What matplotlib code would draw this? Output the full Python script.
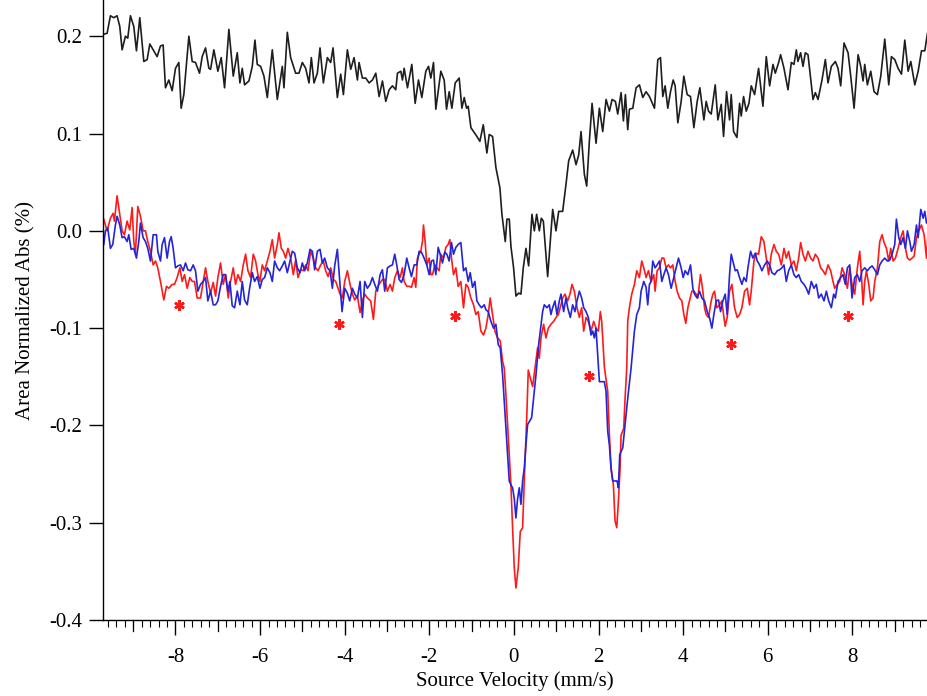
import numpy as np
import matplotlib.pyplot as plt
from matplotlib.ticker import MultipleLocator, FormatStrFormatter

plt.rcParams['font.family'] = ['Liberation Serif', 'DejaVu Serif']
plt.rcParams['axes.unicode_minus'] = False

# upper trace (black), velocity in mm/s and absorption in %
black_v = [-9.696, -9.617, -9.538, -9.459, -9.381, -9.317, -9.262, -9.183, -9.128, -9.065,
           -8.986, -8.923, -8.844, -8.749, -8.670, -8.607, -8.513, -8.434, -8.355, -8.292,
           -8.237, -8.158, -8.079, -8.000, -7.921, -7.866, -7.803, -7.684, -7.605, -7.527,
           -7.432, -7.369, -7.290, -7.211, -7.171, -7.093, -6.998, -6.919, -6.840, -6.738,
           -6.635, -6.540, -6.477, -6.422, -6.367, -6.264, -6.185, -6.122, -6.067, -5.988,
           -5.909, -5.830, -5.712, -5.593, -5.475, -5.436, -5.357, -5.278, -5.160, -5.081,
           -5.002, -4.923, -4.844, -4.789, -4.726, -4.647, -4.584, -4.505, -4.410, -4.331,
           -4.276, -4.174, -4.095, -4.031, -3.937, -3.858, -3.779, -3.700, -3.661, -3.582,
           -3.503, -3.424, -3.345, -3.266,
           -3.187, -3.108, -3.029, -2.950, -2.872, -2.793, -2.753, -2.674, -2.635, -2.595,
           -2.516, -2.414, -2.335, -2.256, -2.177, -2.083, -2.019, -1.964, -1.901, -1.846,
           -1.728, -1.649, -1.593, -1.530, -1.467, -1.388, -1.294, -1.230, -1.175, -1.120,
           -1.081, -1.017, -0.939, -0.875, -0.805, -0.725, -0.639, -0.584, -0.505, -0.426,
           -0.331, -0.284, -0.205, -0.165, -0.110, -0.071, -0.008, 0.048, 0.111, 0.166,
           0.221, 0.284, 0.348, 0.426, 0.482, 0.537, 0.600, 0.647, 0.695, 0.797,
           0.837, 0.916, 0.994, 1.058, 1.152, 1.231, 1.294, 1.389, 1.468, 1.531,
           1.586, 1.665, 1.720, 1.783, 1.847, 1.941, 2.020, 2.099, 2.178, 2.257,
           2.320, 2.399, 2.454, 2.533, 2.588, 2.635, 2.690, 2.730, 2.809, 2.888,
           2.967, 3.046, 3.124, 3.203, 3.282,
           3.322, 3.401, 3.464, 3.519, 3.574, 3.637, 3.701, 3.764, 3.811, 3.874,
           3.953, 4.016, 4.095, 4.174, 4.253, 4.332, 4.395, 4.490, 4.545, 4.600,
           4.663, 4.758, 4.821, 4.900, 4.955, 5.026, 5.097, 5.136, 5.192, 5.271,
           5.334, 5.373, 5.428, 5.491, 5.555, 5.610, 5.689, 5.783, 5.886, 5.965,
           6.044, 6.123, 6.178, 6.257, 6.304, 6.383, 6.478, 6.557, 6.620, 6.675,
           6.714, 6.777, 6.833, 6.888, 6.951, 7.069, 7.125, 7.188, 7.282, 7.361,
           7.424, 7.503, 7.598, 7.661, 7.724, 7.803, 7.898, 7.961, 8.040, 8.135,
           8.198, 8.253, 8.292, 8.355, 8.434, 8.513, 8.592, 8.671, 8.766, 8.860,
           8.923, 9.002, 9.081, 9.160, 9.239, 9.318, 9.381, 9.476, 9.555, 9.634,
           9.712, 9.775]
black_abs = [0.202, 0.203, 0.221, 0.219, 0.221, 0.210, 0.186, 0.200, 0.198, 0.221,
             0.210, 0.185, 0.219, 0.174, 0.176, 0.192, 0.185, 0.179, 0.190, 0.191,
             0.147, 0.155, 0.144, 0.167, 0.173, 0.126, 0.140, 0.200, 0.174, 0.173,
             0.162, 0.179, 0.188, 0.167, 0.166, 0.186, 0.164, 0.178, 0.147, 0.207,
             0.159, 0.183, 0.152, 0.167, 0.150, 0.154, 0.169, 0.196, 0.171, 0.169,
             0.159, 0.137, 0.186, 0.135, 0.169, 0.147, 0.204, 0.178, 0.162, 0.162,
             0.173, 0.167, 0.152, 0.178, 0.152, 0.162, 0.188, 0.152, 0.178, 0.173,
             0.188, 0.137, 0.161, 0.140, 0.186, 0.166, 0.178, 0.155, 0.173, 0.157,
             0.157, 0.152, 0.155, 0.162,
             0.138, 0.154, 0.133, 0.145, 0.149, 0.145, 0.162, 0.164, 0.155, 0.167,
             0.147, 0.171, 0.131, 0.155, 0.137, 0.164, 0.169, 0.157, 0.173, 0.125,
             0.164, 0.155, 0.125, 0.143, 0.126, 0.152, 0.157, 0.126, 0.137, 0.126,
             0.128, 0.106, 0.101, 0.097, 0.092, 0.109, 0.080, 0.099, 0.097, 0.065,
             0.044, 0.017, -0.011, 0.012, 0.012, -0.016, -0.038, -0.067, -0.064, -0.065,
             -0.038, -0.018, -0.036, 0.017, 0.000, 0.017, 0.000, 0.013, 0.010, -0.047,
             -0.024, 0.022, 0.000, 0.020, 0.020, 0.048, 0.072, 0.083, 0.068, 0.078,
             0.102, 0.058, 0.046, 0.092, 0.131, 0.090, 0.126, 0.102, 0.135, 0.123,
             0.135, 0.133, 0.120, 0.142, 0.113, 0.140, 0.104, 0.125, 0.126, 0.147,
             0.150, 0.137, 0.143, 0.138, 0.130,
             0.126, 0.176, 0.178, 0.138, 0.149, 0.126, 0.143, 0.155, 0.149, 0.111,
             0.133, 0.159, 0.140, 0.138, 0.106, 0.133, 0.147, 0.114, 0.133, 0.123,
             0.120, 0.150, 0.114, 0.130, 0.097, 0.143, 0.114, 0.140, 0.102, 0.096,
             0.131, 0.118, 0.138, 0.123, 0.131, 0.149, 0.140, 0.167, 0.128, 0.179,
             0.149, 0.171, 0.162, 0.173, 0.181, 0.167, 0.145, 0.173, 0.171, 0.186,
             0.174, 0.183, 0.169, 0.183, 0.181, 0.135, 0.142, 0.135, 0.155, 0.176,
             0.152, 0.169, 0.174, 0.167, 0.149, 0.193, 0.183, 0.159, 0.126, 0.181,
             0.169, 0.154, 0.171, 0.150, 0.164, 0.143, 0.140, 0.159, 0.197, 0.150,
             0.179, 0.176, 0.167, 0.161, 0.196, 0.164, 0.174, 0.150, 0.164, 0.185,
             0.185, 0.203]

# red trace
red_v = [-9.696, -9.617, -9.538, -9.475, -9.444, -9.381, -9.317, -9.262, -9.207, -9.144,
         -9.081, -9.025, -8.986, -8.947, -8.891, -8.828, -8.765, -8.710, -8.655, -8.592,
         -8.528, -8.473, -8.418, -8.355, -8.276, -8.213, -8.158, -8.079, -8.024, -7.961,
         -7.897, -7.842, -7.787, -7.724, -7.661, -7.605, -7.550, -7.487, -7.408, -7.345,
         -7.290, -7.235, -7.171, -7.108, -7.053, -6.998, -6.935, -6.872, -6.817, -6.753,
         -6.698, -6.635, -6.580, -6.525, -6.461, -6.398, -6.343, -6.288, -6.225, -6.162,
         -6.106, -6.051, -6.004, -5.949, -5.893, -5.830, -5.767, -5.712, -5.657, -5.593,
         -5.554, -5.499, -5.451, -5.396, -5.341, -5.278, -5.215, -5.160, -5.104, -5.041,
         -4.978, -4.923, -4.868, -4.805, -4.742, -4.686, -4.631, -4.568, -4.505, -4.450,
         -4.394, -4.331, -4.268, -4.213, -4.158, -4.110, -4.055, -4.000, -3.937, -3.874,
         -3.819, -3.763, -3.700, -3.637, -3.582, -3.527, -3.464, -3.385, -3.322, -3.266,
         -3.187,
         -3.109, -3.054, -2.991, -2.927, -2.872, -2.817, -2.754, -2.691, -2.636, -2.596,
         -2.533, -2.478, -2.422, -2.359, -2.320, -2.280, -2.241, -2.202, -2.162, -2.138,
         -2.099, -2.060, -2.004, -1.965, -1.925, -1.870, -1.823, -1.768, -1.728, -1.665,
         -1.610, -1.555, -1.515, -1.476, -1.428, -1.373, -1.318, -1.255, -1.192, -1.136,
         -1.081, -1.018, -0.955, -0.900, -0.845, -0.781, -0.718, -0.663, -0.608, -0.561,
         -0.505, -0.450, -0.387, -0.324, -0.269,
         -0.229, -0.190, -0.150, -0.111, -0.071, -0.032, 0.008, 0.047, 0.102, 0.150,
         0.205, 0.244, 0.308, 0.339, 0.386, 0.442, 0.497,
         0.560, 0.599, 0.639, 0.702, 0.757, 0.812, 0.875, 0.938, 0.994, 1.049,
         1.112, 1.152, 1.207, 1.270, 1.325, 1.372, 1.428, 1.491, 1.546, 1.601,
         1.649, 1.704, 1.759, 1.822, 1.885, 1.940, 1.996, 2.043, 2.075, 2.138,
         2.217, 2.256, 2.296, 2.351, 2.390, 2.430, 2.469, 2.509, 2.532, 2.595,
         2.627, 2.667,
         2.690, 2.729, 2.785, 2.848, 2.903, 2.966, 3.021, 3.069, 3.124, 3.179,
         3.242,
         3.306, 3.337, 3.385, 3.440, 3.495, 3.543, 3.598, 3.653, 3.700, 3.756,
         3.811, 3.858, 3.913, 3.969, 4.016, 4.063, 4.111, 4.166, 4.205, 4.253,
         4.308, 4.347, 4.410, 4.466, 4.505, 4.544, 4.600, 4.663, 4.702, 4.742,
         4.797, 4.860, 4.915, 4.963, 4.994, 5.041, 5.097, 5.152, 5.215, 5.278,
         5.333, 5.389, 5.452, 5.515, 5.570, 5.609, 5.673, 5.728, 5.783, 5.846,
         5.909, 5.965, 6.020, 6.083, 6.146, 6.201, 6.257, 6.320, 6.383, 6.438,
         6.493, 6.556, 6.619, 6.675, 6.730, 6.777, 6.833, 6.888, 6.951, 7.014,
         7.069, 7.124, 7.187, 7.250, 7.306, 7.361, 7.424, 7.487, 7.542, 7.582,
         7.645, 7.700, 7.756, 7.819, 7.882, 7.937, 7.992, 8.055, 8.118, 8.174,
         8.213, 8.253, 8.292, 8.332, 8.387, 8.434, 8.489, 8.529, 8.592, 8.647,
         8.702, 8.750, 8.805, 8.860, 8.907, 8.963, 9.018, 9.081, 9.144, 9.199,
         9.255, 9.302, 9.357, 9.412, 9.460, 9.515, 9.570, 9.633, 9.696, 9.752,
         9.791]
red_abs = [0.012, -0.000, 0.013, 0.018, 0.010, 0.036, 0.017, -0.000, -0.004, 0.010,
           0.001, 0.024, -0.011, -0.023, 0.025, 0.015, -0.000, -0.000, -0.011, -0.021,
           -0.035, -0.031, -0.038, -0.052, -0.071, -0.057, -0.059, -0.055, -0.055, -0.048,
           -0.038, -0.052, -0.045, -0.059, -0.048, -0.052, -0.052, -0.069, -0.069, -0.052,
           -0.038, -0.052, -0.064, -0.053, -0.067, -0.048, -0.033, -0.055, -0.045, -0.069,
           -0.052, -0.038, -0.055, -0.045, -0.052, -0.035, -0.024, -0.041, -0.048, -0.024,
           -0.031, -0.045, -0.052, -0.035, -0.041, -0.031, -0.021, -0.009, -0.028, -0.014,
           -0.002, -0.018, -0.021, -0.028, -0.018, -0.028, -0.045, -0.030, -0.048, -0.040,
           -0.041, -0.035, -0.041, -0.021, -0.028, -0.038, -0.041, -0.035, -0.031, -0.041,
           -0.047, -0.038, -0.050, -0.052, -0.059, -0.065, -0.069, -0.052, -0.041, -0.055,
           -0.065, -0.071, -0.067, -0.084, -0.072, -0.065, -0.069, -0.072, -0.091, -0.062,
           -0.055,
           -0.050, -0.050, -0.062, -0.055, -0.062, -0.048, -0.041, -0.048, -0.038, -0.052,
           -0.057, -0.057, -0.058, -0.048, -0.058, -0.028, -0.024, -0.021, -0.011, 0.006,
           -0.011, -0.035, -0.028, -0.045, -0.045, -0.035, -0.038, -0.041, -0.024, -0.028,
           -0.017, -0.014, -0.009, -0.028, -0.045, -0.038, -0.057, -0.052, -0.079, -0.055,
           -0.058, -0.069, -0.076, -0.086, -0.083, -0.103, -0.107, -0.100, -0.086, -0.069,
           -0.086, -0.103, -0.110, -0.113, -0.134,
           -0.141, -0.168, -0.199, -0.230, -0.261, -0.305, -0.346, -0.367, -0.346, -0.309,
           -0.305, -0.257, -0.185, -0.143, -0.151, -0.160, -0.141,
           -0.120, -0.131, -0.110, -0.096, -0.110, -0.100, -0.096, -0.093, -0.089, -0.086,
           -0.076, -0.069, -0.065, -0.072, -0.065, -0.055, -0.062, -0.079, -0.089, -0.079,
           -0.103, -0.089, -0.093, -0.103, -0.093, -0.100, -0.103, -0.083, -0.093, -0.140,
           -0.165, -0.209, -0.244, -0.261, -0.298, -0.305, -0.278, -0.244, -0.210, -0.203,
           -0.172, -0.141,
           -0.093, -0.079, -0.065, -0.055, -0.041, -0.048, -0.031, -0.038, -0.048, -0.041,
           -0.052,
           -0.045, -0.062, -0.041, -0.038, -0.028, -0.028, -0.038, -0.035, -0.038, -0.035,
           -0.052, -0.062, -0.069, -0.072, -0.086, -0.095, -0.079, -0.069, -0.062, -0.062,
           -0.065, -0.069, -0.045, -0.062, -0.079, -0.086, -0.089, -0.072, -0.065, -0.062,
           -0.079, -0.076, -0.072, -0.089, -0.098, -0.089, -0.062, -0.055, -0.079, -0.089,
           -0.086, -0.079, -0.062, -0.059, -0.076, -0.062, -0.031, -0.023, -0.024, -0.006,
           -0.011, -0.028, -0.045, -0.024, -0.014, -0.021, -0.024, -0.035, -0.018, -0.028,
           -0.021, -0.035, -0.031, -0.041, -0.028, -0.012, -0.024, -0.031, -0.021, -0.028,
           -0.031, -0.024, -0.028, -0.038, -0.041, -0.045, -0.035, -0.041, -0.052, -0.059,
           -0.055, -0.052, -0.038, -0.045, -0.059, -0.038, -0.055, -0.065, -0.038, -0.021,
           -0.045, -0.076, -0.052, -0.041, -0.055, -0.072, -0.069, -0.052, -0.038, -0.011,
           -0.004, -0.012, -0.018, -0.031, -0.018, -0.031, -0.028, -0.018, -0.007, -0.000,
           -0.018, -0.028, -0.030, -0.028, -0.026, -0.007, -0.000, 0.006, -0.004, -0.028,
           -0.000]

# blue trace
blue_v = [-9.696, -9.657, -9.601, -9.538, -9.483, -9.420, -9.381, -9.317, -9.262, -9.207,
          -9.144, -9.104, -9.049, -8.986, -8.923, -8.868, -8.828, -8.765, -8.710, -8.655,
          -8.592, -8.528, -8.450, -8.418, -8.355, -8.315, -8.260, -8.197, -8.142, -8.102,
          -8.055, -8.000, -7.945, -7.882, -7.819, -7.763, -7.708, -7.645, -7.582, -7.527,
          -7.471, -7.408, -7.345, -7.290, -7.235, -7.171, -7.108, -7.053, -6.998, -6.935,
          -6.872, -6.817, -6.761, -6.714, -6.659, -6.603, -6.540, -6.477, -6.422, -6.367,
          -6.304, -6.248, -6.185, -6.130, -6.067, -6.004, -5.949, -5.893, -5.830, -5.767,
          -5.712, -5.657, -5.593, -5.538, -5.475, -5.420, -5.357, -5.294, -5.239, -5.183,
          -5.120, -5.057, -5.002, -4.947, -4.884, -4.820, -4.765, -4.710, -4.647, -4.584,
          -4.529, -4.473, -4.410, -4.347, -4.292, -4.237, -4.174, -4.118, -4.063, -4.000,
          -3.937, -3.882, -3.819, -3.763, -3.700, -3.637, -3.582, -3.527, -3.464, -3.401,
          -3.345, -3.290, -3.227, -3.163,
          -3.109, -3.054, -2.991, -2.927, -2.872, -2.817, -2.770, -2.714, -2.659, -2.596,
          -2.533, -2.478, -2.422, -2.359, -2.296, -2.241, -2.186, -2.123, -2.060, -2.004,
          -1.949, -1.902, -1.846, -1.791, -1.744, -1.689, -1.634, -1.586, -1.531, -1.476,
          -1.428, -1.373, -1.318, -1.255, -1.192, -1.136, -1.081, -1.034, -0.979, -0.923,
          -0.876, -0.821, -0.766, -0.702, -0.663, -0.608, -0.545, -0.482, -0.426, -0.371,
          -0.324,
          -0.268, -0.229, -0.190, -0.150, -0.111, -0.071, -0.032, 0.008, 0.047, 0.087,
          0.126, 0.166, 0.205, 0.244, 0.284, 0.323, 0.363, 0.418, 0.465, 0.521,
          0.576, 0.623, 0.678, 0.718, 0.781, 0.836, 0.875, 0.915, 0.970, 1.017,
          1.073, 1.112, 1.175, 1.230, 1.270, 1.333, 1.388, 1.443, 1.491, 1.546,
          1.601, 1.649, 1.704, 1.759, 1.822, 1.862, 1.901, 1.940,
          2.020, 2.138, 2.177, 2.217, 2.256, 2.296, 2.335, 2.390, 2.438, 2.469,
          2.501, 2.532, 2.572, 2.627, 2.690, 2.769,
          2.848, 2.903, 2.966, 3.006, 3.069, 3.124, 3.163, 3.203, 3.242,
          3.282, 3.337, 3.385, 3.440, 3.495, 3.543, 3.598, 3.653, 3.716, 3.779,
          3.834, 3.890, 3.953, 4.000, 4.047, 4.111, 4.174, 4.229, 4.268, 4.331,
          4.387, 4.442, 4.505, 4.568, 4.623, 4.679, 4.726, 4.781, 4.836, 4.884,
          4.939, 4.994, 5.041, 5.097, 5.136, 5.176, 5.231, 5.278, 5.333, 5.389,
          5.436, 5.491, 5.531, 5.594, 5.649, 5.704, 5.752, 5.807, 5.862, 5.925,
          5.988, 6.043, 6.099, 6.162, 6.225, 6.280, 6.335, 6.383, 6.438, 6.493,
          6.556, 6.619, 6.675, 6.730, 6.793, 6.856, 6.911, 6.967, 7.030, 7.093,
          7.148, 7.203, 7.266, 7.329, 7.385, 7.440, 7.503, 7.558, 7.598, 7.661,
          7.724, 7.779, 7.834, 7.882, 7.937, 7.992, 8.055, 8.118, 8.174, 8.229,
          8.292, 8.355, 8.410, 8.466, 8.529, 8.592, 8.647, 8.702, 8.765, 8.828,
          8.884, 8.939, 9.002, 9.041, 9.097, 9.144, 9.199, 9.255, 9.302, 9.357,
          9.397, 9.460, 9.515, 9.554, 9.617, 9.673, 9.712, 9.752, 9.791]
blue_abs = [-0.014, -0.000, 0.003, -0.018, -0.014, 0.006, 0.015, 0.006, -0.007, -0.006,
            -0.011, -0.004, -0.019, -0.018, -0.028, -0.011, 0.008, -0.007, -0.011, -0.018,
            -0.031, -0.004, -0.004, -0.021, -0.031, -0.014, -0.007, -0.028, -0.011, -0.006,
            -0.018, -0.038, -0.036, -0.035, -0.041, -0.033, -0.040, -0.041, -0.035, -0.041,
            -0.062, -0.055, -0.052, -0.048, -0.072, -0.062, -0.076, -0.076, -0.072, -0.057,
            -0.045, -0.045, -0.062, -0.052, -0.077, -0.079, -0.062, -0.076, -0.052, -0.071,
            -0.076, -0.059, -0.043, -0.052, -0.047, -0.059, -0.050, -0.048, -0.038, -0.043,
            -0.052, -0.031, -0.038, -0.041, -0.036, -0.031, -0.043, -0.031, -0.021, -0.023,
            -0.038, -0.043, -0.033, -0.041, -0.033, -0.019, -0.021, -0.040, -0.021, -0.019,
            -0.033, -0.028, -0.038, -0.041, -0.059, -0.036, -0.019, -0.052, -0.083, -0.059,
            -0.064, -0.072, -0.059, -0.065, -0.069, -0.052, -0.089, -0.052, -0.059, -0.055,
            -0.048, -0.055, -0.062, -0.045,
            -0.040, -0.062, -0.038, -0.036, -0.035, -0.024, -0.035, -0.050, -0.053, -0.045,
            -0.028, -0.038, -0.047, -0.035, -0.035, -0.021, -0.022, -0.028, -0.035, -0.045,
            -0.031, -0.030, -0.045, -0.017, -0.024, -0.033, -0.022, -0.024, -0.031, -0.012,
            -0.024, -0.017, -0.014, -0.012, -0.041, -0.038, -0.052, -0.043, -0.058, -0.052,
            -0.072, -0.076, -0.079, -0.076, -0.081, -0.083, -0.093, -0.100, -0.096, -0.117,
            -0.120,
            -0.148, -0.175, -0.203, -0.230, -0.257, -0.261, -0.264, -0.275, -0.295, -0.275,
            -0.264, -0.281, -0.257, -0.244, -0.220, -0.199, -0.196, -0.192, -0.172, -0.148,
            -0.120, -0.103, -0.083, -0.076, -0.079, -0.076, -0.086, -0.079, -0.072, -0.086,
            -0.072, -0.065, -0.083, -0.069, -0.079, -0.089, -0.076, -0.083, -0.072, -0.062,
            -0.069, -0.079, -0.083, -0.089, -0.107, -0.103, -0.110, -0.100,
            -0.155, -0.155, -0.165, -0.206, -0.220, -0.244, -0.257, -0.257, -0.257, -0.264,
            -0.230, -0.227, -0.223, -0.199, -0.172, -0.141,
            -0.103, -0.086, -0.079, -0.062, -0.052, -0.058, -0.076, -0.055, -0.052,
            -0.031, -0.038, -0.035, -0.031, -0.052, -0.045, -0.038, -0.045, -0.059, -0.048,
            -0.038, -0.028, -0.038, -0.048, -0.041, -0.045, -0.035, -0.059, -0.065, -0.069,
            -0.062, -0.069, -0.072, -0.083, -0.089, -0.100, -0.086, -0.072, -0.071, -0.083,
            -0.072, -0.065, -0.086, -0.045, -0.024, -0.031, -0.041, -0.040, -0.048, -0.055,
            -0.048, -0.052, -0.038, -0.021, -0.028, -0.023, -0.031, -0.035, -0.041, -0.035,
            -0.031, -0.035, -0.043, -0.045, -0.041, -0.040, -0.038, -0.035, -0.052, -0.041,
            -0.035, -0.045, -0.048, -0.045, -0.052, -0.055, -0.059, -0.065, -0.052, -0.059,
            -0.055, -0.069, -0.065, -0.072, -0.062, -0.072, -0.079, -0.065, -0.069, -0.052,
            -0.048, -0.045, -0.055, -0.038, -0.035, -0.069, -0.048, -0.045, -0.052, -0.041,
            -0.038, -0.041, -0.038, -0.036, -0.040, -0.045, -0.035, -0.031, -0.028, -0.031,
            -0.030, -0.024, -0.014, 0.012, -0.007, -0.014, -0.007, -0.018, -0.000, -0.011,
            -0.021, -0.014, 0.006, -0.007, 0.022, 0.013, 0.020, 0.008, 0.012]

# red asterisks marking the extra sextet lines
star_v = [-7.92, -4.13, -1.39, 1.78, 5.12, 7.89]
star_abs = [-0.076, -0.096, -0.088, -0.149, -0.116, -0.087]

fig = plt.figure(figsize=(9.27, 6.96), dpi=100)
ax = fig.add_axes([0.111, 0.109, 0.889, 0.891])

ax.plot(black_v, black_abs, color='#1e1e1e', lw=1.2)
ax.plot(red_v, red_abs, color='#ff1a1a', lw=1.2)
ax.plot(blue_v, blue_abs, color='#2424d8', lw=1.2)
ax.plot(star_v, star_abs, ls='none', marker=(6, 2, 0), ms=7.5, mew=1.8, color='#ff1a1a')

ax.set_xlim(-9.716, 9.764)
ax.set_ylim(-0.4, 0.2372)

for side in ['top', 'right']:
    ax.spines[side].set_visible(False)
ax.spines['left'].set_linewidth(1.0)
ax.spines['bottom'].set_linewidth(1.0)

ax.xaxis.set_major_locator(MultipleLocator(2))
ax.xaxis.set_minor_locator(MultipleLocator(0.2))
ax.yaxis.set_major_locator(MultipleLocator(0.1))
ax.yaxis.set_major_formatter(FormatStrFormatter('%.1f'))
ax.tick_params(axis='x', which='major', length=11, width=1.0, direction='out', labelsize=15, pad=9)
ax.tick_params(axis='x', which='minor', length=5, width=0.8, direction='out')
ax.tick_params(axis='y', which='major', length=10, width=1.0, direction='out', labelsize=15, pad=5)

# medium ticks on the odd integers
for v in range(-9, 10, 2):
    ax.plot([v, v], [0, -0.0177], transform=ax.get_xaxis_transform(), color='black',
            lw=0.9, clip_on=False)

ax.set_xlabel('Source Velocity (mm/s)', fontsize=15, labelpad=3)
ax.set_ylabel('Area Normalized Abs (%)', fontsize=15, labelpad=10)

fig.savefig('out.png', dpi=100)
